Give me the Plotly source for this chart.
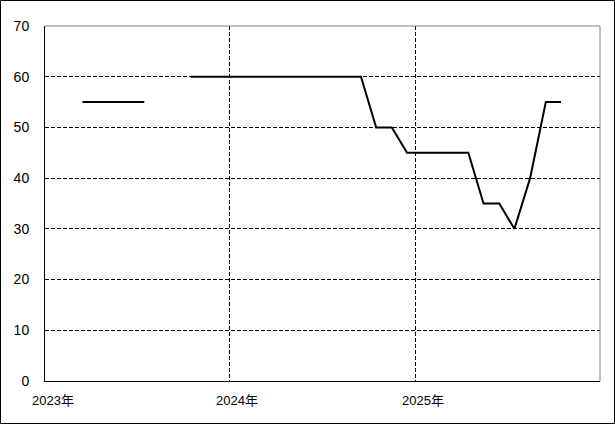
import plotly.graph_objects as go

months = ["2023-03-16", "2023-04-16", "2023-05-16", "2023-06-16", "2023-07-16",
          "2023-08-16", "2023-09-16", "2023-10-16", "2023-11-16", "2023-12-16",
          "2024-01-16", "2024-02-16", "2024-03-16", "2024-04-16", "2024-05-16",
          "2024-06-16", "2024-07-16", "2024-08-16", "2024-09-16", "2024-10-16",
          "2024-11-16", "2024-12-16", "2025-01-16", "2025-02-16", "2025-03-16",
          "2025-04-16", "2025-05-16", "2025-06-16", "2025-07-16", "2025-08-16",
          "2025-09-16", "2025-10-16"]
values = [55, 55, 55, 55, 55,
          None, None, 60, 60, 60,
          60, 60, 60, 60, 60,
          60, 60, 60, 60, 50,
          50, 45, 45, 45, 45,
          45, 35, 35, 30, 40,
          55, 55]
year_ticks = ["2023-01-01", "2024-01-01", "2025-01-01"]
year_label_pos = ["2023-01-16", "2024-01-16", "2025-01-16"]
year_labels = ["2023年", "2024年", "2025年"]
y_ticks = [0, 10, 20, 30, 40, 50, 60, 70]

W, H = 615, 424
ML, MR, MT, MB = 45, 15, 26, 43
PW, PH = W - ML - MR, H - MT - MB

FONT = "Liberation Sans, Arial, Noto Sans CJK JP, sans-serif"

fig = go.Figure()
fig.add_trace(go.Scatter(x=months, y=values, mode="lines",
                         line=dict(color="black", width=2),
                         connectgaps=False, hoverinfo="skip"))

fig.update_layout(
    width=W, height=H,
    margin=dict(l=ML, r=MR, t=MT, b=MB, pad=0),
    paper_bgcolor="white", plot_bgcolor="white",
    showlegend=False,
    font=dict(family=FONT, color="black", size=13),
    xaxis=dict(
        type="date",
        range=["2023-01-01", "2026-01-01"],
        tickvals=year_ticks,
        showticklabels=False,
        showgrid=True, gridcolor="black", gridwidth=1, griddash="4px,2px",
        showline=True, linecolor="black", linewidth=1,
        zeroline=False, ticks="",
    ),
    yaxis=dict(
        range=[0, 70],
        tickvals=y_ticks,
        showgrid=True, gridcolor="black", gridwidth=1, griddash="4px,2px",
        showline=True, linecolor="black", linewidth=1,
        zeroline=False, ticks="",
        ticklabelstandoff=12,
        tickfont=dict(size=14, family=FONT),
    ),
)

for pos, lab in zip(year_label_pos, year_labels):
    fig.add_annotation(x=pos, y=-19 / PH, xref="x", yref="paper",
                       text=lab, showarrow=False, xanchor="center", yanchor="middle",
                       font=dict(size=13, family=FONT, color="black"))

# gray top/right frame of plot area
fig.add_shape(type="line", xref="paper", yref="paper", x0=0, x1=1, y0=1, y1=1,
              line=dict(color="#808080", width=1), layer="above")
fig.add_shape(type="line", xref="paper", yref="paper", x0=1, x1=1, y0=0, y1=1,
              line=dict(color="#808080", width=1), layer="above")

# outer black border of the image
fig.add_shape(type="rect", xref="paper", yref="paper",
              x0=(0.5 - ML) / PW, x1=(W - 0.5 - ML) / PW,
              y0=-(H - 0.5 - MT - PH) / PH, y1=(MT - 0.5) / PH + 1,
              line=dict(color="black", width=1), layer="above")

fig.write_html("out.html", config={"displayModeBar": False},
               post_script="document.body.style.margin='0';document.body.style.overflow='hidden';")
